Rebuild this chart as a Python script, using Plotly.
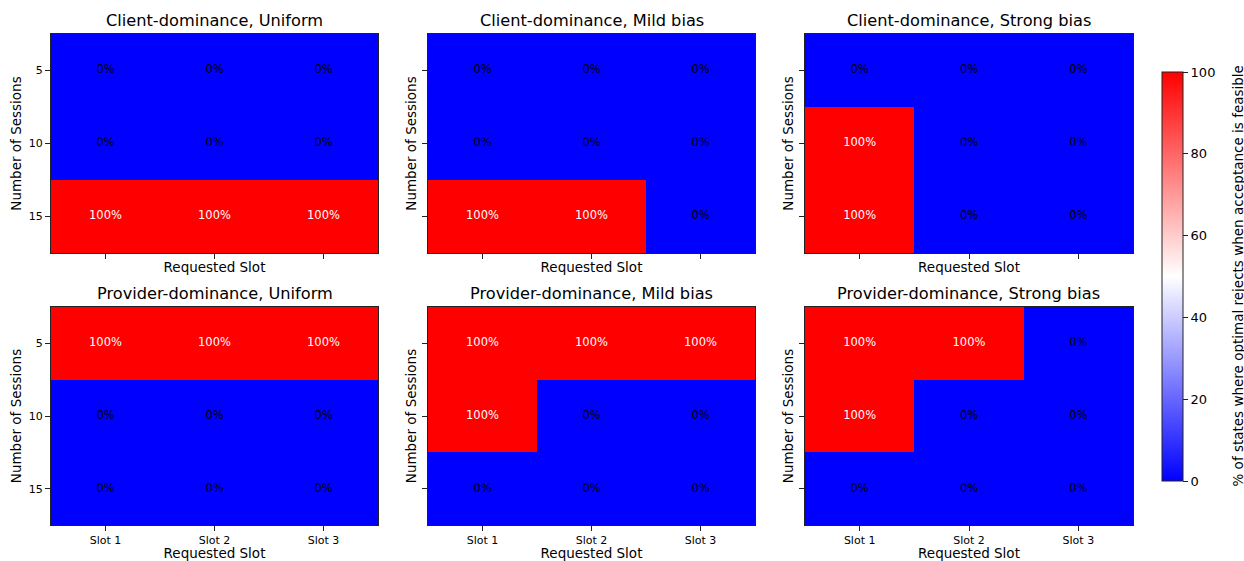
import plotly.graph_objects as go

# Heatmap data: rows = number of sessions, columns = requested slot
slots = ["Slot 1", "Slot 2", "Slot 3"]
sessions = ["5", "10", "15"]

client_uniform = [[0, 0, 0], [0, 0, 0], [100, 100, 100]]
client_mild = [[0, 0, 0], [0, 0, 0], [100, 100, 0]]
client_strong = [[0, 0, 0], [100, 0, 0], [100, 0, 0]]
provider_uniform = [[100, 100, 100], [0, 0, 0], [0, 0, 0]]
provider_mild = [[100, 100, 100], [100, 0, 0], [0, 0, 0]]
provider_strong = [[100, 100, 0], [100, 0, 0], [0, 0, 0]]

panel_titles = [
    "Client-dominance, Uniform", "Client-dominance, Mild bias", "Client-dominance, Strong bias",
    "Provider-dominance, Uniform", "Provider-dominance, Mild bias", "Provider-dominance, Strong bias",
]
panel_data = [client_uniform, client_mild, client_strong,
              provider_uniform, provider_mild, provider_strong]

colorbar_label = "% of states where optimal rejects when acceptance is feasible"

W, H = 1244, 561
FONT = "DejaVu Sans"
LINE = "#222222"
bwr = [[0.0, "rgb(0,0,255)"], [0.5, "rgb(255,255,255)"], [1.0, "rgb(255,0,0)"]]

# panel pixel boxes (left, right) and (top, bottom)
col_px = [(51, 378), (428, 755), (805, 1133)]
row_px = [(34, 253), (307, 525)]

fig = go.Figure()
annotations = []
layout = {}

for i, (title, z) in enumerate(zip(panel_titles, panel_data)):
    r, c = divmod(i, 3)
    n = i + 1
    xa = "x" if n == 1 else f"x{n}"
    ya = "y" if n == 1 else f"y{n}"
    fig.add_trace(go.Heatmap(
        z=z, x=slots, y=sessions, xaxis=xa, yaxis=ya,
        coloraxis="coloraxis",
        hovertemplate="%{y} sessions, %{x}: %{z}%<extra></extra>",
    ))
    # cell value labels
    tx, ty, tt, tc = [], [], [], []
    for ri, srow in enumerate(sessions):
        for ci, slot in enumerate(slots):
            v = z[ri][ci]
            tx.append(slot)
            ty.append(srow)
            tt.append(f"{v}%")
            tc.append("white" if v > 50 else "black")
    fig.add_trace(go.Scatter(
        x=tx, y=ty, text=tt, mode="text", xaxis=xa, yaxis=ya,
        textfont=dict(size=11.5, family=FONT, color=tc),
        textposition="middle center", hoverinfo="skip", showlegend=False,
    ))

    x0, x1 = col_px[c]
    t0, t1 = row_px[r]
    dx = [x0 / W, x1 / W]
    dy = [1 - t1 / H, 1 - t0 / H]
    layout["xaxis" if n == 1 else f"xaxis{n}"] = dict(
        domain=dx, anchor=ya, type="category", range=[-0.5, 2.5],
        showline=True, mirror=True, linecolor=LINE, linewidth=1,
        ticks="outside", ticklen=5, tickcolor=LINE,
        showticklabels=(r == 1), tickfont=dict(size=11, color="black", family=FONT),
        showgrid=False, zeroline=False,
        title=dict(text="Requested Slot", font=dict(size=13.5, color="black", family=FONT),
                   standoff=4 if r == 0 else 2),
    )
    layout["yaxis" if n == 1 else f"yaxis{n}"] = dict(
        domain=dy, anchor=xa, type="category", range=[2.5, -0.5],
        showline=True, mirror=True, linecolor=LINE, linewidth=1,
        ticks="outside", ticklen=5, tickcolor=LINE,
        showticklabels=(c == 0), tickfont=dict(size=11, color="black", family=FONT),
        showgrid=False, zeroline=False,
        title=dict(text="Number of Sessions", font=dict(size=13.5, color="black", family=FONT),
                   standoff=4 if c == 0 else 2),
    )
    # panel title
    annotations.append(dict(
        text=title, xref="paper", yref="paper",
        x=(dx[0] + dx[1]) / 2, y=dy[1] + 2 / H, xanchor="center", yanchor="bottom",
        showarrow=False, font=dict(size=16.2, color="black", family=FONT),
    ))

# colorbar label, rotated, to the right of the bar
annotations.append(dict(
    text=colorbar_label, xref="paper", yref="paper",
    x=1237 / W, y=1 - 276.5 / H, xanchor="center", yanchor="middle",
    textangle=-90, showarrow=False,
    font=dict(size=13.5, color="black", family=FONT),
))

fig.update_layout(
    width=W, height=H,
    margin=dict(l=0, r=0, t=0, b=0),
    paper_bgcolor="white", plot_bgcolor="white",
    font=dict(family=FONT, color="black"),
    annotations=annotations,
    coloraxis=dict(
        colorscale=bwr, cmin=0, cmax=100,
        colorbar=dict(
            x=1162 / W, xanchor="left", y=1 - 276.5 / H, yanchor="middle",
            len=409 / H, lenmode="fraction", thickness=21, thicknessmode="pixels",
            outlinecolor=LINE, outlinewidth=1,
            ticks="outside", ticklen=5, tickcolor=LINE,
            tickvals=[0, 20, 40, 60, 80, 100],
            tickfont=dict(size=13, color="black", family=FONT),
            xpad=0, ypad=0,
        ),
    ),
    showlegend=False,
    **layout,
)

fig.write_html("out.html")
